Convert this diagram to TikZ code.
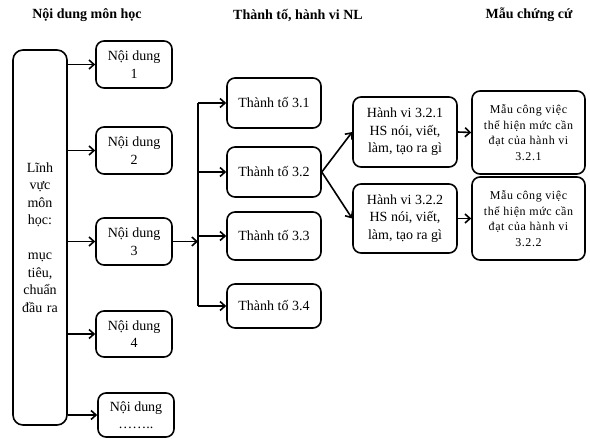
\documentclass[tikz,border=0pt]{standalone}
\usepackage{fontspec}
\setmainfont{Liberation Serif}
\usepackage{tikz}
\usetikzlibrary{arrows.meta, calc}

\begin{document}
\begin{tikzpicture}[x=1pt, y=-1pt,
    box/.style={draw, line width=1.6pt, rounded corners=8pt, align=center, inner sep=1pt,
      font=\fontsize{14}{17.5}\selectfont},
    small/.style={font=\fontsize{12}{15.5}\selectfont\addfontfeature{LetterSpace=5}},
    head/.style={font=\fontsize{14}{16}\selectfont\bfseries},
    arr/.style={line width=1.6pt, -{Straight Barb[length=5pt, width=9pt, line width=1.6pt]}},
    ln/.style={line width=1.6pt}]
    \useasboundingbox (0,0) rectangle (590,439);
    \node[head] (h1) at (87,15) {Nội dung môn học};
    \node[head] (h2) at (298,15) {Thành tố, hành vi NL};
    \node[head] (h3) at (529,15) {Mẫu chứng cứ};

    \node[box, rounded corners=10pt, minimum width=54pt, minimum height=375pt, text width=50pt] (lv) at (40,237.5)
        {Lĩnh vực môn học:\\[17.5pt] mục tiêu, chuẩn đầu ra};
    \node[box, minimum width=76pt, minimum height=47pt] (nd1) at (134,64.5) {Nội dung\\1};
    \node[box, minimum width=76pt, minimum height=47pt] (nd2) at (134,150.5) {Nội dung\\2};
    \node[box, minimum width=76pt, minimum height=47pt] (nd3) at (134,241.5) {Nội dung\\3};
    \node[box, minimum width=76pt, minimum height=46pt] (nd4) at (134,334) {Nội dung\\4};
    \node[box, minimum width=76pt, minimum height=44pt] (nd5) at (136,415) {Nội dung\\……..};

    \foreach \n in {nd1,nd2,nd3,nd4,nd5}
        {
          \draw[arr] (\n.west -| lv.east) -- (\n.west);
        };

    \node[box, minimum width=94pt, minimum height=50pt] (tt1) at (274,103) {Thành tố 3.1};
    \node[box, minimum width=94pt, minimum height=50pt] (tt2) at (274,172) {Thành tố 3.2};
    \node[box, minimum width=94pt, minimum height=48pt] (tt3) at (274,236) {Thành tố 3.3};
    \node[box, minimum width=94pt, minimum height=44pt] (tt4) at (274,306) {Thành tố 3.4};

    \coordinate (br) at (198,241.5);
    \draw[arr] (nd3.east) -- (br);
    \draw[ln] (br |- tt1) -- (br |- tt4);
    \foreach \t in {tt1,tt2,tt3,tt4}
        {
          \draw[arr] (br |- \t) -- (\t.west);
        };

    \node[box, minimum width=104pt, minimum height=70pt] (hv1) at (405,132) {Hành vi 3.2.1\\HS nói, viết,\\làm, tạo ra gì};
    \node[box, minimum width=104pt, minimum height=69pt] (hv2) at (405,218.5) {Hành vi 3.2.2\\HS nói, viết,\\làm, tạo ra gì};
    \node[box, small, minimum width=113pt, minimum height=83pt] (mc1) at (528.5,132.5)
        {Mẫu công việc\\thể hiện mức cần\\đạt của hành vi\\3.2.1};
    \node[box, small, minimum width=113pt, minimum height=83pt] (mc2) at (528.5,218.5)
        {Mẫu công việc\\thể hiện mức cần\\đạt của hành vi\\3.2.2};

    \draw[arr] (tt2.east) -- (hv1.west);
    \draw[arr] (tt2.east) -- (hv2.west);
    \draw[arr] (hv1.east) -- (mc1.west);
    \draw[arr] (hv2.east) -- (mc2.west);
\end{tikzpicture}
\end{document}
